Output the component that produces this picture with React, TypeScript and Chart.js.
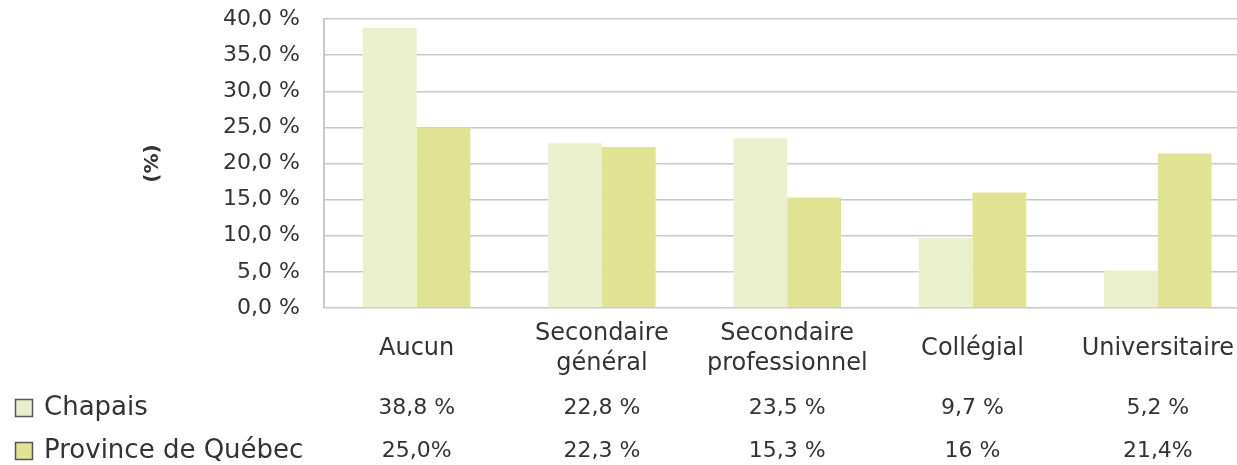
import React, { useEffect, useRef } from "react";
import { Chart, registerables } from "chart.js";

Chart.register(...registerables);

const categories: (string | string[])[] = [
  "Aucun",
  ["Secondaire", "général"],
  ["Secondaire", "professionnel"],
  "Collégial",
  "Universitaire",
];
const chapaisValues = [38.8, 22.8, 23.5, 9.7, 5.2];
const quebecValues = [25.0, 22.3, 15.3, 16, 21.4];
const chapaisLabels = ["38,8 %", "22,8 %", "23,5 %", "9,7 %", "5,2 %"];
const quebecLabels = ["25,0%", "22,3 %", "15,3 %", "16 %", "21,4%"];
const seriesNames = ["Chapais", "Province de Québec"];
const colors = ["#EAF0CB", "#E0E492"];

const FONT = "'DejaVu Sans', sans-serif";
const TEXT = "#333333";

const tablePlugin = {
  id: "tablePlugin",
  afterDraw(chart: any) {
    const ctx = chart.ctx;
    const x = chart.scales.x;
    const area = chart.chartArea;
    ctx.save();
    // y axis title
    ctx.save();
    ctx.translate(153, (area.top + area.bottom) / 2);
    ctx.rotate(-Math.PI / 2);
    ctx.font = `bold 20px ${FONT}`;
    ctx.fillStyle = TEXT;
    ctx.textAlign = "center";
    ctx.textBaseline = "middle";
    ctx.fillText("(%)", 0, 0);
    ctx.restore();

    const rows = [
      { y: 408, labels: chapaisLabels },
      { y: 451, labels: quebecLabels },
    ];
    rows.forEach((row, r) => {
      ctx.fillStyle = colors[r];
      ctx.fillRect(15.5, row.y - 8.5, 17, 17);
      ctx.strokeStyle = "#555555";
      ctx.lineWidth = 1.5;
      ctx.strokeRect(15.5, row.y - 8.5, 17, 17);
      ctx.font = `26px ${FONT}`;
      ctx.fillStyle = TEXT;
      ctx.textBaseline = "middle";
      ctx.textAlign = "left";
      ctx.fillText(seriesNames[r], 44, row.y);
      ctx.font = `22px ${FONT}`;
      ctx.textAlign = "center";
      row.labels.forEach((t, i) => {
        ctx.fillText(t, x.getPixelForValue(i), row.y);
      });
    });
    ctx.restore();
  },
};

export default function App() {
  const ref = useRef<HTMLCanvasElement>(null);
  useEffect(() => {
    document.body.style.overflow = "hidden";
    const chart = new Chart(ref.current as HTMLCanvasElement, {
      type: "bar",
      data: {
        labels: categories as any,
        datasets: [
          {
            label: seriesNames[0],
            data: chapaisValues,
            backgroundColor: colors[0],
            categoryPercentage: 0.58,
            barPercentage: 1.0,
          },
          {
            label: seriesNames[1],
            data: quebecValues,
            backgroundColor: colors[1],
            categoryPercentage: 0.58,
            barPercentage: 1.0,
          },
        ],
      },
      options: {
        responsive: false,
        animation: false,
        devicePixelRatio: 1,
        layout: { padding: { top: 0, left: 0, right: 0, bottom: 0 } },
        plugins: { legend: { display: false }, tooltip: { enabled: false } },
        scales: {
          x: {
            grid: { display: false },
            border: { display: false },
            ticks: {
              font: { family: FONT, size: 24, lineHeight: 1.25 },
              color: TEXT,
              maxRotation: 0,
              autoSkip: false,
              crossAlign: "center",
              padding: 18,
            },
            afterFit: (s: any) => {
              s.height = 465 - 308;
            },
          },
          y: {
            min: 0,
            max: 40,
            ticks: {
              stepSize: 5,
              font: { family: FONT, size: 22 },
              color: TEXT,
              padding: 24,
              callback: (v: any) => Number(v).toFixed(1).replace(".", ",") + " %",
            },
            grid: { color: "#c8c8c8", lineWidth: 1.5, drawTicks: false },
            border: { color: "#c8c8c8", width: 2 },
            afterFit: (s: any) => {
              s.width = 324;
              s.paddingTop = 19;
              s.paddingBottom = 0;
            },
          },
        },
      },
      plugins: [tablePlugin],
    });
    return () => chart.destroy();
  }, []);
  return (
    <div
      style={{
        position: "fixed",
        left: 0,
        top: 0,
        width: 1237,
        height: 465,
        overflow: "hidden",
        background: "#fff",
      }}
    >
      <canvas ref={ref} width={1252} height={465} style={{ display: "block" }} />
    </div>
  );
}
